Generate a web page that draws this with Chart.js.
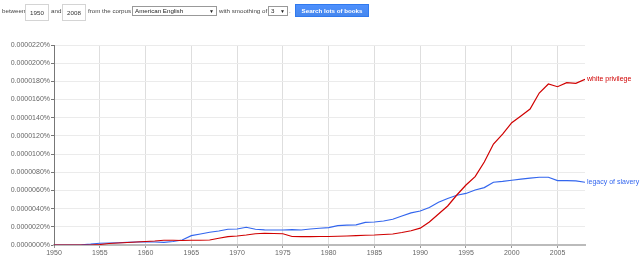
<!DOCTYPE html>
<html>
<head>
<meta charset="utf-8">
<script src="https://cdn.jsdelivr.net/npm/chart.js@4"></script>
<style>
  html, body { margin: 0; padding: 0; background: #fff; }
  body { width: 640px; height: 260px; position: relative; overflow: hidden; font-family: Arial, "Liberation Sans", sans-serif; }
  #wrap { position: absolute; left: 0; top: 0; width: 640px; height: 260px; }
  .ctl { position: absolute; font-size: 6.2px; color: #444; line-height: 10px; white-space: nowrap; }
  .box { position: absolute; border: 1px solid #d4d4d4; background: #fff; font-size: 6.2px; color: #333; box-sizing: border-box; }
  .sel { position: absolute; border: 1px solid #999; background: #fff; font-size: 6.2px; color: #222; box-sizing: border-box; line-height: 8px; padding-left: 2px; white-space: nowrap; }
  .sel b { position: absolute; right: 2px; top: 0; font-size: 5px; }
  #btn { position: absolute; left: 295px; top: 4px; width: 74px; height: 13px; background: linear-gradient(#4d90fe, #4787ed); border: 1px solid #3079ed; box-sizing: border-box; color: #fff; font-size: 6.2px; font-weight: bold; text-align: center; line-height: 11px; white-space: nowrap; }
</style>
</head>
<body>
<div id="wrap"><canvas id="graph"></canvas></div>

<div class="ctl" style="left:2px; top:6px;">between</div>
<div class="box" style="left:25px; top:4px; width:24px; height:17px; line-height:15px; text-align:center;">1950</div>
<div class="ctl" style="left:51px; top:6px;">and</div>
<div class="box" style="left:62px; top:4px; width:24px; height:17px; line-height:15px; text-align:center;">2008</div>
<div class="ctl" style="left:88px; top:6px;">from the corpus</div>
<div class="sel" style="left:132px; top:6px; width:85px; height:10px;">American English<b>&#9660;</b></div>
<div class="ctl" style="left:219px; top:6px;">with smoothing of</div>
<div class="sel" style="left:268px; top:6px; width:20px; height:10px;">3<b>&#9660;</b></div>
<div class="ctl" style="left:289px; top:6px;">.</div>
<div id="btn">Search lots of books</div>

<script>
// years on the x axis
var years = [1950, 1951, 1952, 1953, 1954, 1955, 1956, 1957, 1958, 1959,
             1960, 1961, 1962, 1963, 1964, 1965, 1966, 1967, 1968, 1969,
             1970, 1971, 1972, 1973, 1974, 1975, 1976, 1977, 1978, 1979,
             1980, 1981, 1982, 1983, 1984, 1985, 1986, 1987, 1988, 1989,
             1990, 1991, 1992, 1993, 1994, 1995, 1996, 1997, 1998, 1999,
             2000, 2001, 2002, 2003, 2004, 2005, 2006, 2007, 2008];

// series values, in units of 0.0000001%
var whitePrivilege = [0, 0, 0, 0, 0, 0.55, 1.65, 2.2, 2.75, 3.3,
                      3.85, 4.4, 5.2, 5.2, 4.95, 5.2, 5.2, 5.5, 7.4, 9.2,
                      9.9, 11, 12.4, 12.9, 12.65, 12.4, 9.35, 9.2, 9.2, 9.35,
                      9.35, 9.6, 9.9, 10.3, 10.7, 11, 11.55, 12.1, 13.75, 15.7,
                      18.5, 25.3, 34.1, 42.9, 55, 66, 75.2, 91.3, 111, 122,
                      134.5, 141.9, 149.6, 167.2, 177.1, 174.1, 178.5, 177.9, 182.3];

var legacyOfSlavery = [0, 0, 0, 0.2, 0.9, 1.9, 2.2, 2.5, 2.9, 3.3,
                       3.6, 3.3, 2.9, 3.85, 5.5, 10.3, 12.1, 14, 15.4, 17.3,
                       17.6, 19.5, 17.3, 16.7, 16.5, 16.5, 17, 16.5, 17.6, 18.4,
                       19.1, 21.3, 21.8, 22.2, 24.8, 25.3, 26.4, 28.3, 31.9, 35.4,
                       37.4, 41.3, 47, 51.2, 54.7, 56.7, 60.5, 63.1, 69, 69.9,
                       71.2, 72.4, 73.5, 74.5, 74.5, 70.8, 70.8, 70.6, 69];

// tick labels
var xTicks = [1950, 1955, 1960, 1965, 1970, 1975, 1980, 1985, 1990, 1995, 2000, 2005];
var yTicks = [0, 20, 40, 60, 80, 100, 120, 140, 160, 180, 200, 220];
var yTickLabels = ['0.0000000%', '0.0000020%', '0.0000040%', '0.0000060%', '0.0000080%', '0.0000100%',
                   '0.0000120%', '0.0000140%', '0.0000160%', '0.0000180%', '0.0000200%', '0.0000220%'];

var seriesNames = ['white privilege', 'legacy of slavery'];
var seriesColors = ['#d00000', '#3366ee'];

function toPoints(values) {
    return values.map(function (v, i) { return { x: years[i], y: v }; });
}

// writes the series name right after the last point of each line
var endLabels = {
    id: 'endLabels',
    afterDatasetsDraw: function (chart) {
        var ctx = chart.ctx;
        ctx.save();
        ctx.font = '7px Arial';
        ctx.textBaseline = 'middle';
        chart.data.datasets.forEach(function (ds, i) {
            var pts = chart.getDatasetMeta(i).data;
            var last = pts[pts.length - 1];
            ctx.fillStyle = ds.borderColor;
            ctx.fillText(ds.label, last.x + 2, last.y);
        });
        ctx.restore();
    }
};

function drawGraph() {
    var graphElement = document.getElementById('graph');

    new Chart(graphElement, {
        type: 'line',
        data: {
            datasets: [{
                label: seriesNames[0],
                data: toPoints(whitePrivilege),
                borderColor: seriesColors[0],
                borderWidth: 1.2,
                pointRadius: 0,
                tension: 0,
                fill: false
            }, {
                label: seriesNames[1],
                data: toPoints(legacyOfSlavery),
                borderColor: seriesColors[1],
                borderWidth: 1.2,
                pointRadius: 0,
                tension: 0,
                fill: false
            }]
        },
        options: {
            responsive: true,
            maintainAspectRatio: false,
            animation: false,
            devicePixelRatio: 1,
            layout: { padding: { left: 0, top: 45, right: 55, bottom: 0 } },
            plugins: {
                legend: { display: false },
                tooltip: { enabled: false }
            },
            scales: {
                x: {
                    type: 'linear',
                    min: 1950,
                    max: 2008,
                    afterBuildTicks: function (scale) {
                        scale.ticks = xTicks.map(function (v) { return { value: v }; });
                    },
                    afterFit: function (scale) { scale.height = 15; },
                    grid: { color: '#dedede', tickColor: '#999', tickLength: 3, drawOnChartArea: true },
                    border: { color: '#bbbbbb', width: 2 },
                    ticks: {
                        color: '#666',
                        font: { family: 'Arial', size: 7 },
                        padding: 1,
                        maxRotation: 0,
                        callback: function (v) { return String(v); }
                    }
                },
                y: {
                    min: 0,
                    max: 220,
                    afterBuildTicks: function (scale) {
                        scale.ticks = yTicks.map(function (v) { return { value: v }; });
                    },
                    afterFit: function (scale) { scale.width = 54; },
                    grid: { color: '#ebebeb', tickColor: '#777', tickLength: 3 },
                    border: { color: '#777', width: 1 },
                    ticks: {
                        color: '#666',
                        font: { family: 'Arial', size: 7 },
                        padding: 1,
                        callback: function (v, i) { return yTickLabels[i]; }
                    }
                }
            }
        },
        plugins: [endLabels]
    });
}

window.onload = drawGraph;
</script>
</body>
</html>
